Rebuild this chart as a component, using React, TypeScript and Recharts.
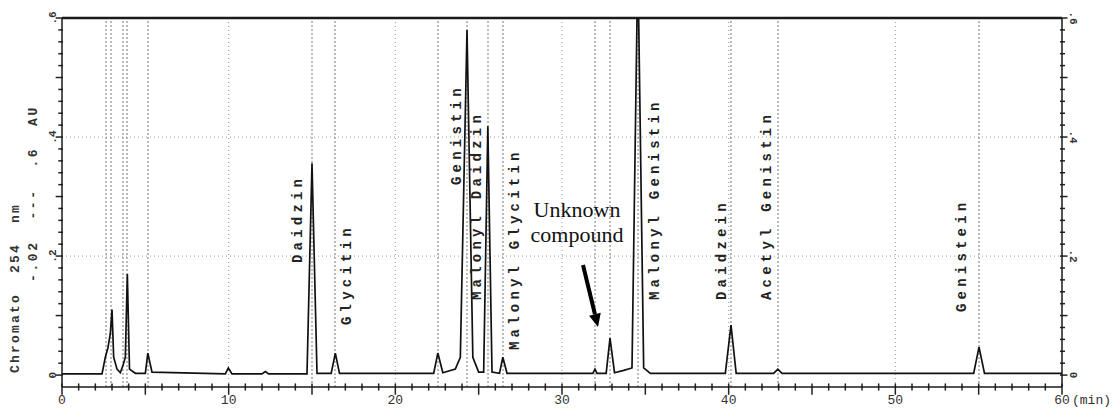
import React from "react";
import { Label, Line, LineChart, ReferenceDot, ReferenceLine, XAxis, YAxis } from "recharts";

// detector trace (min, AU)
const retentionTimes = [
  0, 2.4, 2.6, 2.75, 2.9, 3.0, 3.1, 3.3, 3.5, 3.7, 3.8, 3.92, 4.05, 4.4, 5.0, 5.15, 5.4,
  9.8, 9.98, 10.2, 12.0, 12.2, 12.4, 14.7, 15.0, 15.3, 16.15, 16.4, 16.65, 22.3, 22.55,
  22.85, 23.6, 23.9, 24.3, 24.65, 25.0, 25.3, 25.55, 25.8, 26.25, 26.45, 26.7, 31.85,
  31.98, 32.1, 32.65, 32.88, 33.15, 33.7, 34.2, 34.5, 34.6, 34.9, 35.3, 39.8, 40.14,
  40.45, 42.7, 42.95, 43.2, 54.7, 55.02, 55.35, 60,
];
const absorbance = [
  0.002, 0.002, 0.03, 0.045, 0.07, 0.11, 0.03, 0.01, 0.004, 0.02, 0.03, 0.17, 0.01, 0.003,
  0.003, 0.037, 0.005, 0.002, 0.012, 0.002, 0.002, 0.006, 0.002, 0.002, 0.356, 0.003,
  0.003, 0.037, 0.003, 0.003, 0.037, 0.004, 0.01, 0.03, 0.58, 0.03, 0.005, 0.005, 0.418,
  0.005, 0.003, 0.03, 0.003, 0.003, 0.01, 0.003, 0.003, 0.062, 0.004, 0.008, 0.012, 0.6,
  0.6, 0.012, 0.003, 0.003, 0.084, 0.003, 0.003, 0.01, 0.003, 0.003, 0.047, 0.003, 0.003,
];

// integrator marks (dashed verticals)
const peakMarks = [
  2.64, 2.94, 3.66, 3.9, 5.16, 15.0, 16.38, 22.56, 24.3, 25.56, 26.46, 31.98, 32.88,
  34.56, 40.14, 42.96, 55.02,
];

const compoundNames = [
  "Daidzin", "Glycitin", "Genistin", "Malonyl Daidzin", "Malonyl Glycitin",
  "Malonyl Genistin", "Daidzein", "Acetyl Genistin", "Genistein",
];
const compoundTimes = [15.0, 16.38, 24.3, 25.56, 26.46, 34.56, 40.14, 42.96, 55.02];

const gridTimes = [10, 20, 30, 40, 50];
const gridLevels = [0.2, 0.4];
const xTicks = Array.from({ length: 61 }, (_, i) => i);
const yTicks = Array.from({ length: 31 }, (_, i) => i / 50);
const yTickLabels = ["0", ".2", ".4", ".6"];

const Y_MIN = -0.02;
const Y_MAX = 0.6;

const unknownPos = { t: 30.9, v: 0.266 };
const arrowFrom = { t: 31.26, v: 0.185 };
const arrowTo = { t: 32.16, v: 0.081 };

// label placement: px offset from the peak line, px from top of page to text start
const labelDx = [-14, 12, -10, -11, 12, 17, -9, -11, -17];
const labelBottom = [263, 325, 185, 300, 350, 300, 300, 300, 312];

const data = retentionTimes.map((t, i) => ({ t, au: absorbance[i] }));

const MONO = "'Liberation Mono', 'DejaVu Sans Mono', monospace";
const INK = "#1a1a1a";

function XTick(props: any) {
  const { x, y, payload } = props;
  const v = payload.value as number;
  if (v % 10 !== 0) return <g />;
  return (
    <g fontFamily={MONO} fontSize={13} fill="#333">
      <text x={x} y={y + 12} textAnchor="middle">
        {v}
      </text>
      {v === 60 && (
        <text x={x + 10} y={y + 12}>
          (min)
        </text>
      )}
    </g>
  );
}

function LeftTick(props: any) {
  const { x, y, payload } = props;
  const k = Math.round(payload.value * 50);
  if (k % 10 !== 0) return <g />;
  const lx = x - 3;
  return (
    <text
      x={lx}
      y={y}
      transform={`rotate(-90 ${lx} ${y})`}
      textAnchor="middle"
      dominantBaseline="central"
      fontFamily={MONO}
      fontSize={11}
      fontWeight="bold"
      fill="#333"
    >
      {yTickLabels[k / 10]}
    </text>
  );
}

function RightTick(props: any) {
  const { x, y, payload } = props;
  const k = Math.round(payload.value * 50);
  if (k % 10 !== 0) return <g />;
  const lx = x + 5;
  return (
    <text
      x={lx}
      y={y}
      transform={`rotate(90 ${lx} ${y})`}
      textAnchor="middle"
      dominantBaseline="central"
      fontFamily={MONO}
      fontSize={11}
      fontWeight="bold"
      fill="#333"
    >
      {yTickLabels[k / 10]}
    </text>
  );
}

function AxisTitle(props: any) {
  const { viewBox } = props;
  const bottom = viewBox.y + viewBox.height;
  const x1 = viewBox.x + 15;
  const x2 = viewBox.x + 33;
  const y1 = bottom - 14;
  const y2 = bottom - 105;
  return (
    <g fontFamily={MONO} fontSize={13} fontWeight="bold" fill="#333">
      <text
        x={x1}
        y={y1}
        transform={`rotate(-90 ${x1} ${y1})`}
        dominantBaseline="central"
        letterSpacing={2.2}
        style={{ whiteSpace: "pre" }}
      >
        {"Chromato  254  nm"}
      </text>
      <text
        x={x2}
        y={y2}
        transform={`rotate(-90 ${x2} ${y2})`}
        dominantBaseline="central"
        letterSpacing={2.6}
        style={{ whiteSpace: "pre" }}
      >
        {"-.02  ---  .6  AU"}
      </text>
    </g>
  );
}

function ArrowShape(props: any) {
  const { x1, y1, x2, y2 } = props;
  const ang = Math.atan2(y2 - y1, x2 - x1);
  const head = 13;
  const half = 6;
  const bx = x2 - head * Math.cos(ang);
  const by = y2 - head * Math.sin(ang);
  const px = -Math.sin(ang) * half;
  const py = Math.cos(ang) * half;
  return (
    <g>
      <line x1={x1} y1={y1} x2={bx} y2={by} stroke="#000" strokeWidth={4} />
      <polygon points={`${x2},${y2} ${bx + px},${by + py} ${bx - px},${by - py}`} fill="#000" />
    </g>
  );
}

export default function App() {
  return (
    <div style={{ position: "absolute", left: 0, top: 0, width: 1115, height: 413, background: "#fff" }}>
      <LineChart width={1115} height={413} data={data} margin={{ top: 18, right: 0, bottom: 0, left: 0 }}>
        <XAxis
          dataKey="t"
          type="number"
          domain={[0, 60]}
          ticks={xTicks}
          interval={0}
          tickSize={5}
          tickMargin={0}
          height={26}
          axisLine={{ stroke: INK, strokeWidth: 1.5 }}
          tickLine={false}
          tick={<XTick />}
        />
        <YAxis
          yAxisId="left"
          type="number"
          domain={[Y_MIN, Y_MAX]}
          allowDataOverflow
          ticks={yTicks}
          interval={0}
          tickSize={6}
          tickMargin={0}
          width={62}
          axisLine={{ stroke: INK, strokeWidth: 1.5 }}
          tickLine={false}
          tick={<LeftTick />}
        >
          <Label content={<AxisTitle />} />
        </YAxis>
        <YAxis
          yAxisId="right"
          orientation="right"
          type="number"
          domain={[Y_MIN, Y_MAX]}
          allowDataOverflow
          ticks={yTicks}
          interval={0}
          tickSize={6}
          tickMargin={0}
          width={53}
          axisLine={{ stroke: INK, strokeWidth: 1.5 }}
          tickLine={false}
          tick={<RightTick />}
        />

        {gridLevels.map((v) => (
          <ReferenceLine key={`h${v}`} yAxisId="left" y={v} stroke="#9a9a9a" strokeDasharray="1 3" />
        ))}
        {gridTimes.map((t) => (
          <ReferenceLine key={`g${t}`} yAxisId="left" x={t} stroke="#9a9a9a" strokeDasharray="1 3" />
        ))}
        {peakMarks.map((t) => (
          <ReferenceLine key={`p${t}`} yAxisId="left" x={t} stroke="#777" strokeDasharray="2 2" />
        ))}
        <ReferenceLine yAxisId="left" y={Y_MAX} stroke={INK} strokeWidth={2.5} />

        {/* axis tick marks, drawn as short segments through the scales */}
        {xTicks.map((t) => (
          <ReferenceLine
            key={`xt${t}`}
            yAxisId="left"
            ifOverflow="visible"
            segment={[
              { x: t, y: Y_MIN + 0.006 },
              { x: t, y: Y_MIN - (t % 5 === 0 ? 0.013 : 0.006) },
            ]}
            stroke="#222"
            strokeWidth={1.5}
          />
        ))}
        {yTicks.map((v, i) => (
          <ReferenceLine
            key={`lt${i}`}
            yAxisId="left"
            ifOverflow="visible"
            segment={[
              { x: 0.06, y: v },
              { x: i % 5 === 0 ? -0.38 : -0.22, y: v },
            ]}
            stroke="#222"
            strokeWidth={1.5}
          />
        ))}
        {yTicks.map((v, i) => (
          <ReferenceLine
            key={`rt${i}`}
            yAxisId="left"
            ifOverflow="visible"
            segment={[
              { x: 59.88, y: v },
              { x: i % 5 === 0 ? 60.33 : 60.18, y: v },
            ]}
            stroke="#222"
            strokeWidth={1.5}
          />
        ))}

        <Line
          yAxisId="left"
          dataKey="au"
          type="linear"
          dot={false}
          stroke="#111"
          strokeWidth={1.7}
          isAnimationActive={false}
        />

        {compoundTimes.map((t, i) => (
          <ReferenceLine
            key={`l${i}`}
            yAxisId="left"
            x={t}
            stroke="none"
            label={(p: any) => {
              const lx = p.viewBox.x + labelDx[i];
              const ly = labelBottom[i];
              return (
                <text
                  x={lx}
                  y={ly}
                  transform={`rotate(-90 ${lx} ${ly})`}
                  dominantBaseline="central"
                  fontFamily={MONO}
                  fontSize={14}
                  fontWeight="bold"
                  letterSpacing={4.2}
                  fill="#222"
                >
                  {compoundNames[i]}
                </text>
              );
            }}
          />
        ))}

        <ReferenceLine
          yAxisId="left"
          segment={[
            { x: arrowFrom.t, y: arrowFrom.v },
            { x: arrowTo.t, y: arrowTo.v },
          ]}
          shape={<ArrowShape />}
        />
        <ReferenceDot
          yAxisId="left"
          x={unknownPos.t}
          y={unknownPos.v}
          r={0}
          stroke="none"
          fill="none"
          label={(p: any) => {
            const cx = p.viewBox.x + p.viewBox.width / 2;
            const cy = p.viewBox.y + p.viewBox.height / 2;
            return (
              <g fontFamily="'Liberation Serif', 'Times New Roman', serif" fontSize={22} fill="#111">
                <text x={cx} y={cy} textAnchor="middle">
                  Unknown
                </text>
                <text x={cx} y={cy + 25} textAnchor="middle">
                  compound
                </text>
              </g>
            );
          }}
        />
      </LineChart>
    </div>
  );
}
